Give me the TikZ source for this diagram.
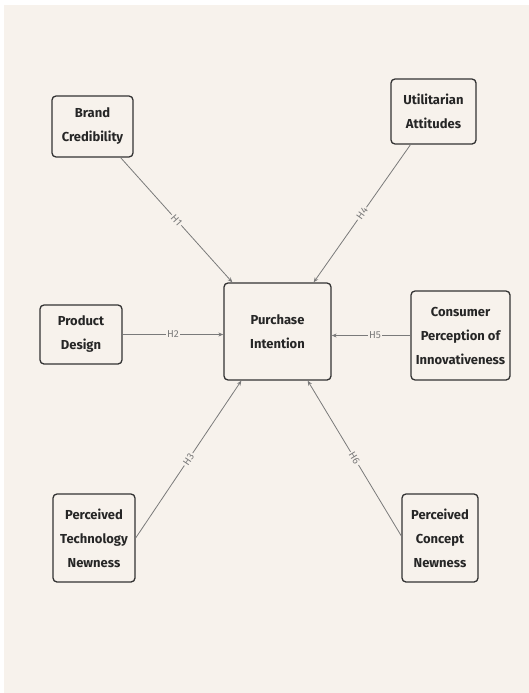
\documentclass[tikz,border=0pt]{standalone}
\usepackage{fontspec}
\setmainfont{Fira Sans}
\usetikzlibrary{arrows.meta}
\definecolor{paper}{HTML}{F7F2EC}
\definecolor{boxline}{HTML}{333333}
\definecolor{ink}{HTML}{262626}
\definecolor{link}{HTML}{7A7A7A}
\begin{document}
\begin{tikzpicture}[x=1pt,y=-1pt,
  construct/.style={draw=boxline,line width=1.3pt,rounded corners=4pt,fill=paper,
    text=ink,font=\fontsize{13}{24}\selectfont\bfseries,align=center,inner sep=2pt},
  path/.style={draw=link,line width=0.8pt,-{Stealth[length=5pt,width=4pt]}},
  hyp/.style={fill=paper,text=link,font=\fontsize{10}{10}\selectfont,sloped,inner sep=1.5pt}]
  % canvas
  \fill[white] (0,0) rectangle (529,693);
  \fill[paper] (4,5) rectangle (529,693);
  \useasboundingbox (0,0) rectangle (529,693);

  % constructs
  \node[construct,minimum width=81pt,minimum height=61pt] (bc)  at (92.5,126.5) {Brand\\Credibility};
  \node[construct,minimum width=85pt,minimum height=65pt] (ua)  at (433.5,111.5) {Utilitarian\\Attitudes};
  \node[construct,minimum width=82pt,minimum height=59pt] (pd)  at (81,334.5) {Product\\Design};
  \node[construct,minimum width=107pt,minimum height=97pt] (pi) at (277.5,331.5) {Purchase\\Intention};
  \node[construct,minimum width=99pt,minimum height=89pt] (cpi) at (460.5,335.5) {Consumer\\Perception of\\Innovativeness};
  \node[construct,minimum width=82pt,minimum height=88pt] (ptn) at (94,538) {Perceived\\Technology\\Newness};
  \node[construct,minimum width=76pt,minimum height=88pt] (pcn) at (440,538) {Perceived\\Concept\\Newness};

  % hypothesised paths
  \draw[path] ([xshift=-13pt]bc.south east) -- node[hyp]{H1} ([xshift=9pt]pi.north west);
  \draw[path] ([xshift=-23pt]ua.south) -- node[hyp]{H4} ([xshift=-18pt]pi.north east);
  \draw[path] (pd.east) -- node[hyp]{H2} (pd.east -| pi.west);
  \draw[path] (cpi.west) -- node[hyp,pos=0.45]{H5} (cpi.west -| pi.east);
  \draw[path] (ptn.east) -- node[hyp]{H3} ([xshift=18pt]pi.south west);
  \draw[path] ([yshift=2pt]pcn.west) -- node[hyp]{H6} ([xshift=-24pt]pi.south east);
\end{tikzpicture}
\end{document}
